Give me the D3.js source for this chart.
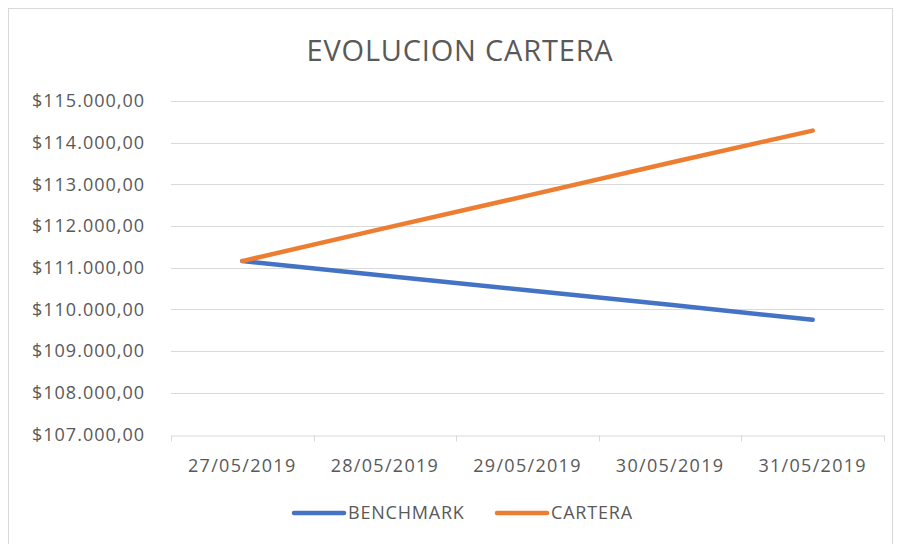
<!DOCTYPE html>
<html>
<head>
    <title>Evolucion Cartera</title>
    <script src="https://d3js.org/d3.v7.min.js"></script>
    <style>
        body { margin: 0; background: #fff; }
        text { font-family: "Open Sans", "Noto Sans", sans-serif; fill: #595959; }
    </style>
</head>
<body>
    <div id="chart"></div>
    <script>
        const dates = ["27/05/2019", "28/05/2019", "29/05/2019", "30/05/2019", "31/05/2019"];
        const benchmark = [111160, 110810, 110460, 110110, 109750];
        const cartera = [111160, 111950, 112730, 113520, 114290];
        const yTicks = [107000, 108000, 109000, 110000, 111000, 112000, 113000, 114000, 115000];
        const seriesNames = ["BENCHMARK", "CARTERA"];
        const colors = ["#4472C4", "#ED7D31"];

        const width = 900, height = 544;
        const margin = {top: 101, right: 16, bottom: 110, left: 171};

        const svg = d3.select("#chart").append("svg")
            .attr("width", width)
            .attr("height", height);

        // outer chart border
        svg.append("rect")
            .attr("x", 8.5).attr("y", 8.5)
            .attr("width", 884).attr("height", 560)
            .attr("fill", "none")
            .attr("stroke", "#d9d9d9");

        var x = d3.scaleBand().domain(dates).range([margin.left, width - margin.right]);
        var y = d3.scaleLinear().domain([107000, 115000]).range([434.5, margin.top]);

        // gridlines
        svg.append("g")
            .selectAll("line")
            .data(yTicks.slice(1))
            .enter().append("line")
            .attr("x1", margin.left).attr("x2", width - margin.right)
            .attr("y1", d => Math.round(y(d)) + 0.5).attr("y2", d => Math.round(y(d)) + 0.5)
            .attr("stroke", "#d9d9d9")
            .attr("stroke-width", 1);

        // y labels
        var fmt = function(d) {
            return "$" + d3.format(",.2f")(d).replace(/,/g, "#").replace(".", ",").replace(/#/g, ".");
        };
        svg.append("g")
            .selectAll("text")
            .data(yTicks)
            .enter().append("text")
            .attr("x", 145)
            .attr("y", d => y(d))
            .attr("dy", "0.35em")
            .style("text-anchor", "end")
            .style("font-size", "18px")
            .style("letter-spacing", "1px")
            .text(fmt);

        // x axis
        var xAxis = svg.append("g")
            .attr("transform", "translate(0," + (Math.round(y(107000)) + 0.5) + ")")
            .call(d3.axisBottom(x).tickSize(0).tickFormat(""));
        xAxis.select(".domain").attr("stroke", "#d9d9d9");
        xAxis.selectAll(".tick").remove();
        var edges = dates.map(d => x(d)).concat([width - margin.right]);
        xAxis.selectAll(".edge")
            .data(edges)
            .enter().append("line")
            .attr("x1", d => Math.round(d) + 0.5).attr("x2", d => Math.round(d) + 0.5)
            .attr("y1", 0).attr("y2", 6)
            .attr("stroke", "#d9d9d9");

        svg.append("g")
            .selectAll("text")
            .data(dates)
            .enter().append("text")
            .attr("x", d => x(d) + x.bandwidth() / 2)
            .attr("y", 472)
            .style("text-anchor", "middle")
            .style("font-size", "18px")
            .style("letter-spacing", "1.3px")
            .text(d => d);

        // lines
        var line = d3.line()
            .x((d, i) => x(dates[i]) + x.bandwidth() / 2)
            .y(d => y(d));

        [benchmark, cartera].forEach(function(s, i) {
            svg.append("path")
                .datum(s)
                .attr("fill", "none")
                .attr("stroke", colors[i])
                .attr("stroke-width", 4.5)
                .attr("stroke-linecap", "round")
                .attr("stroke-linejoin", "round")
                .attr("d", line);
        });

        // title
        svg.append("text")
            .attr("x", 460)
            .attr("y", 61)
            .style("text-anchor", "middle")
            .style("font-size", "29px")
            .style("letter-spacing", "0.8px")
            .text("EVOLUCION CARTERA");

        // legend
        var legendX = [294, 497];
        seriesNames.forEach(function(name, i) {
            svg.append("line")
                .attr("x1", legendX[i]).attr("x2", legendX[i] + 50)
                .attr("y1", 513).attr("y2", 513)
                .attr("stroke", colors[i])
                .attr("stroke-width", 4.5)
                .attr("stroke-linecap", "round");
            svg.append("text")
                .attr("x", legendX[i] + 54)
                .attr("y", 513)
                .attr("dy", "0.35em")
                .style("font-size", "18px")
                .style("letter-spacing", "0.8px")
                .text(name);
        });
    </script>
</body>
</html>
